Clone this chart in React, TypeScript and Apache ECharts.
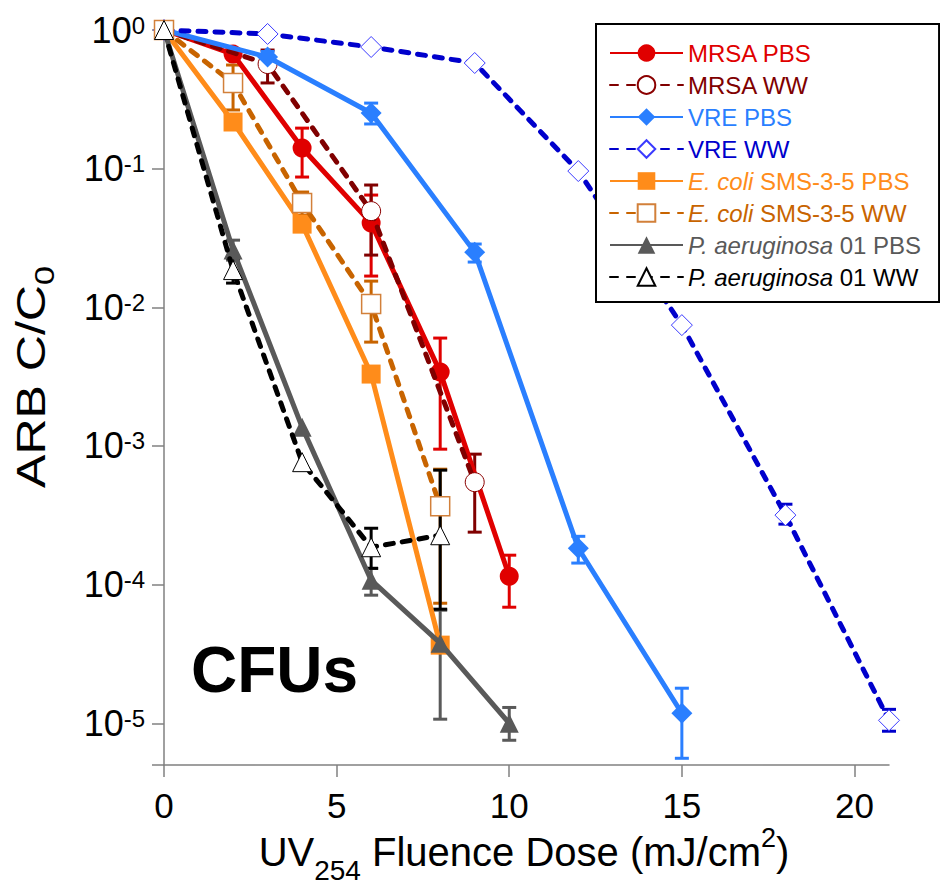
import React, { useEffect, useRef } from 'react';
import * as echarts from 'echarts';

const FONT = '"Liberation Sans", Arial, Helvetica, sans-serif';

// ---------- data ----------
const seriesNames = [
  'MRSA PBS',
  'MRSA WW',
  'VRE PBS',
  'VRE WW',
  'E. coli SMS-3-5 PBS',
  'E. coli SMS-3-5 WW',
  'P. aeruginosa 01 PBS',
  'P. aeruginosa 01 WW',
];

const mrsaPbsX = [0, 2, 4, 6, 8, 10];
const mrsaPbsY = [1, 0.67, 0.141, 0.0405, 0.00341, 0.000115];
const mrsaPbsErr = [[4, 0.087, 0.196], [6, 0.0168, 0.0645], [8, 0.000948, 0.006], [10, 0.0000687, 0.000163]];

const mrsaWwX = [0, 3, 6, 9];
const mrsaWwY = [1, 0.568, 0.0494, 0.000548];
const mrsaWwErr = [[3, 0.415, 0.717], [6, 0.0238, 0.0762], [9, 0.000239, 0.000873]];

const vrePbsX = [0, 3, 6, 9, 12, 15];
const vrePbsY = [1, 0.638, 0.252, 0.025, 0.000183, 0.0000118];
const vrePbsErr = [[3, 0.6, 0.7], [6, 0.21, 0.297], [9, 0.0212, 0.0286], [12, 0.000143, 0.000223], [15, 0.00000559, 0.0000179]];

const vreWwX = [0, 3, 6, 9, 12, 15, 18, 21];
const vreWwY = [1, 0.936, 0.754, 0.578, 0.0961, 0.00744, 0.000317, 0.0000105];
const vreWwErr = [[18, 0.000273, 0.00038], [21, 0.00000876, 0.0000126]];

const ecoliPbsX = [0, 2, 4, 6, 8];
const ecoliPbsY = [1, 0.217, 0.0398, 0.0033, 0.0000366];
const ecoliPbsErr: number[][] = [];

const ecoliWwX = [0, 2, 4, 6, 8];
const ecoliWwY = [1, 0.415, 0.0565, 0.01055, 0.000368];
const ecoliWwErr = [[2, 0.265, 0.559], [4, 0.0462, 0.0678], [6, 0.00561, 0.01545], [8, 0.0000734, 0.00068]];

const paerPbsX = [0, 2, 4, 6, 8, 10];
const paerPbsY = [1, 0.0259, 0.001367, 0.0001076, 0.0000378, 0.00001];
const paerPbsErr = [[2, 0.0219, 0.0305], [6, 0.0000839, 0.000131], [8, 0.0000107, 0.0000654], [10, 0.00000754, 0.000013]];

const paerWwX = [0, 2, 4, 6, 8];
const paerWwY = [1, 0.01855, 0.000764, 0.000186, 0.000227];
const paerWwErr = [[2, 0.01495, 0.0226], [6, 0.000131, 0.000255], [8, 0.0000665, 0.000669]];

const xTicks = [0, 5, 10, 15, 20];

// ---------- styles ----------
const styles = [
  { color: '#e00000', dashed: false, symbol: 'circle', size: 19, fill: '#e00000', border: '#e00000', bw: 0 },
  { color: '#800000', dashed: true, symbol: 'circle', size: 19, fill: '#ffffff', border: '#8b0000', bw: 1 },
  { color: '#2a7fff', dashed: false, symbol: 'diamond', size: 21, fill: '#2a7fff', border: '#2a7fff', bw: 0 },
  { color: '#0000cc', dashed: true, symbol: 'diamond', size: 21, fill: '#ffffff', border: '#3a3aff', bw: 1 },
  { color: '#ff8c1a', dashed: false, symbol: 'rect', size: 19, fill: '#ff8c1a', border: '#ff8c1a', bw: 0 },
  { color: '#c86400', dashed: true, symbol: 'rect', size: 19, fill: '#ffffff', border: '#d2803a', bw: 1.5 },
  { color: '#595959', dashed: false, symbol: 'triangle', size: 19, fill: '#595959', border: '#595959', bw: 0 },
  { color: '#000000', dashed: true, symbol: 'triangle', size: 19, fill: '#ffffff', border: '#000000', bw: 1 },
];

const xs = [mrsaPbsX, mrsaWwX, vrePbsX, vreWwX, ecoliPbsX, ecoliWwX, paerPbsX, paerWwX];
const ys = [mrsaPbsY, mrsaWwY, vrePbsY, vreWwY, ecoliPbsY, ecoliWwY, paerPbsY, paerWwY];
const errs = [mrsaPbsErr, mrsaWwErr, vrePbsErr, vreWwErr, ecoliPbsErr, ecoliWwErr, paerPbsErr, paerWwErr];

const legendLabel = (name: string) => {
  if (name.startsWith('E. coli')) return '{i|E. coli}' + name.slice(7);
  if (name.startsWith('P. aeruginosa')) return '{i|P. aeruginosa}' + name.slice(13);
  return name;
};

export default function App() {
  const ref = useRef<HTMLDivElement>(null);
  useEffect(() => {
    if (!ref.current) return;
    const chart = echarts.init(ref.current, undefined, { renderer: 'svg' });

    const lineSeries: any[] = seriesNames.map((name, i) => {
      const s = styles[i];
      return {
        name,
        type: 'line',
        data: xs[i].map((x, j) => [x, ys[i][j]]),
        symbol: s.symbol,
        symbolSize: s.size,
        z: 3 + i * 0.01,
        lineStyle: {
          color: s.color,
          width: 5,
          type: s.dashed ? [8, 9] : 'solid',
          cap: s.dashed ? 'round' : 'butt',
        },
        itemStyle: { color: s.fill, borderColor: s.border, borderWidth: s.bw, opacity: 1 },
        emphasis: { disabled: true },
      };
    });

    const errSeries: any[] = seriesNames.map((name, i) => {
      const s = styles[i];
      return {
        name: name + ' err',
        type: 'custom',
        z: 2,
        data: errs[i],
        encode: { x: 0, y: [1, 2] },
        renderItem: (params: any, api: any) => {
          const x = api.value(0);
          const lo = api.value(1);
          const hi = api.value(2);
          const p1 = api.coord([x, hi]);
          const p2 = api.coord([x, lo]);
          const hw = 7;
          const st = { stroke: s.color, lineWidth: 3 };
          return {
            type: 'group',
            children: [
              { type: 'line', shape: { x1: p1[0], y1: p1[1], x2: p2[0], y2: p2[1] }, style: st },
              { type: 'line', shape: { x1: p1[0] - hw, y1: p1[1], x2: p1[0] + hw, y2: p1[1] }, style: st },
              { type: 'line', shape: { x1: p2[0] - hw, y1: p2[1], x2: p2[0] + hw, y2: p2[1] }, style: st },
            ],
          };
        },
      };
    });

    const option: any = {
      animation: false,
      backgroundColor: '#ffffff',
      grid: { left: 164, top: 30, right: 51, bottom: 129, containLabel: false },
      xAxis: {
        type: 'value',
        min: 0,
        max: 21,
        interval: 5,
        axisLine: { show: true, lineStyle: { color: '#808080', width: 1.5 } },
        axisTick: { show: true, length: 12, inside: false, lineStyle: { color: '#808080', width: 1.5 } },
        splitLine: { show: false },
        axisLabel: {
          margin: 23,
          fontSize: 35,
          fontFamily: FONT,
          color: '#000',
          showMaxLabel: false,
          formatter: (v: number) => (xTicks.includes(v) ? String(v) : ''),
        },
      },
      yAxis: {
        type: 'log',
        logBase: 10,
        min: 5e-6,
        max: 1,
        axisLine: { show: true, lineStyle: { color: '#808080', width: 1.5 } },
        axisTick: { show: true, length: 12, inside: false, lineStyle: { color: '#808080', width: 1.5 } },
        splitLine: { show: false },
        minorTick: { show: false },
        axisLabel: {
          margin: 19,
          color: '#000',
          formatter: (v: number) => {
            const l = Math.log10(v);
            const e = Math.round(l);
            if (Math.abs(l - e) > 1e-6) return '';
            return '{b|10}{s|' + e + '}';
          },
          rich: {
            b: { fontSize: 36, fontFamily: FONT, color: '#000', lineHeight: 40 },
            s: { fontSize: 24, fontFamily: FONT, color: '#000', lineHeight: 24, verticalAlign: 'top', padding: [3, 0, 0, 0] },
          },
        },
      },
      legend: {
        orient: 'vertical',
        left: 596,
        top: 24,
        padding: [17, 18, 13, 13],
        itemWidth: 73,
        itemHeight: 22,
        itemGap: 8,
        borderColor: '#000',
        borderWidth: 2,
        backgroundColor: '#fff',
        selectedMode: false,
        formatter: legendLabel,
        textStyle: {
          fontSize: 24,
          fontFamily: FONT,
          lineHeight: 22,
          padding: [0, 0, 0, 0],
          rich: {
            i: { fontStyle: 'italic', fontSize: 24, fontFamily: FONT },
          },
        },
        data: seriesNames.map((n, i) => ({ name: n, textStyle: { color: styles[i].color } })),
      },
      graphic: [
        {
          type: 'text',
          left: 191,
          top: 638,
          style: { text: 'CFUs', fontSize: 64, fontWeight: 'bold', fontFamily: FONT, fill: '#000' },
        },
        {
          type: 'text',
          x: 524,
          y: 852,
          style: {
            text: '{m|UV}{sub|254}{m| Fluence Dose (mJ/cm}{sup|2}{m|)}',
            align: 'center',
            verticalAlign: 'middle',
            rich: {
              m: { fontSize: 40, fontFamily: FONT, fill: '#000', lineHeight: 64 },
              sub: { fontSize: 28, fontFamily: FONT, fill: '#000', lineHeight: 30, verticalAlign: 'bottom' },
              sup: { fontSize: 27, fontFamily: FONT, fill: '#000', lineHeight: 30, verticalAlign: 'top', padding: [4, 0, 0, 0] },
            },
          },
        },
        {
          type: 'text',
          x: 31,
          y: 377,
          rotation: Math.PI / 2,
          scaleX: 1.22,
          style: {
            text: '{m|ARB C/C}{sub|0}',
            align: 'center',
            verticalAlign: 'middle',
            rich: {
              m: { fontSize: 41, fontFamily: FONT, fill: '#000', lineHeight: 56 },
              sub: { fontSize: 28, fontFamily: FONT, fill: '#000', lineHeight: 28, verticalAlign: 'bottom' },
            },
          },
        },
      ],
      series: [...errSeries, ...lineSeries],
    };

    chart.setOption(option);
    return () => chart.dispose();
  }, []);

  return <div ref={ref} style={{ width: 940, height: 894, position: 'absolute', left: 0, top: 0 }} />;
}
